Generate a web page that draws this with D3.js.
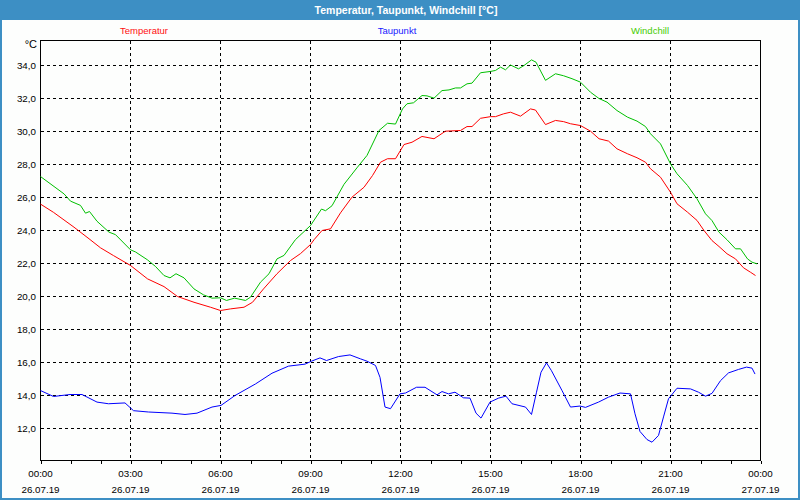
<!DOCTYPE html>
<html>
<head>
<meta charset="utf-8">
<script src="https://cdn.jsdelivr.net/npm/d3@7"></script>
<style>
	body { margin: 0; background: #ffffff; }
	svg { display: block; }
</style>
</head>
<body>
<div id="chart"></div>
<script>
var chartTitle = "Temperatur, Taupunkt, Windchill [°C]";
var seriesNames = ["Temperatur", "Taupunkt", "Windchill"];
var seriesColors = ["#ff0000", "#0000ff", "#00c000"];
var legendColors = ["#ff1010", "#2020ff", "#44cc00"];
var yTicks = [12, 14, 16, 18, 20, 22, 24, 26, 28, 30, 32, 34];
var yUnit = "°C";

// hours since 26.07.19 00:00
var tempHours = [0, 0.44, 1.11, 1.61, 2.0, 2.44, 3.0, 3.56, 4.11, 4.56, 5.11, 5.67, 6.0, 6.33, 6.78, 7.06,
	7.44, 7.89, 8.33, 8.67, 9.0, 9.11, 9.39, 9.67, 10.0, 10.39, 10.78, 11.06, 11.33, 11.56, 11.83,
	12.11, 12.39, 12.72, 13.11, 13.5, 14.0, 14.22, 14.39, 14.67, 15.0, 15.17, 15.44, 15.67, 16.0,
	16.33, 16.5, 16.83, 17.17, 17.44, 17.67, 18.0, 18.33, 18.61, 18.94, 19.22, 19.56, 19.89, 20.17,
	20.33, 20.67, 21.0, 21.22, 21.56, 21.89, 22.11, 22.39, 22.61, 22.89, 23.17, 23.44, 23.67, 23.83];
var tempValues = [25.6, 25.1, 24.2, 23.5, 22.95, 22.48, 21.88, 21.07, 20.6, 20.0, 19.65, 19.35, 19.15, 19.25, 19.35, 19.65,
	20.46, 21.38, 22.18, 22.6, 23.15, 23.44, 24.0, 24.1, 25.07, 26.02, 26.62, 27.33, 28.14, 28.35, 28.35,
	29.21, 29.35, 29.7, 29.56, 30.02, 30.06, 30.3, 30.3, 30.8, 30.9, 30.9, 31.07, 31.17, 30.93,
	31.37, 31.3, 30.42, 30.67, 30.6, 30.47, 30.36, 30.02, 29.56, 29.42, 28.95, 28.65, 28.41, 28.14,
	27.74, 27.23, 26.32, 25.62, 25.11, 24.61, 24.0, 23.39, 23.03, 22.59, 22.28, 21.74, 21.47, 21.27];

var dewHours = [0, 0.43, 0.99, 1.38, 1.88, 2.27, 2.82, 3.1, 3.6, 4.38, 4.82, 5.21, 5.71, 6.02, 6.49, 7.16,
	7.71, 8.27, 8.82, 9.04, 9.32, 9.54, 9.93, 10.32, 10.66, 10.88, 11.16, 11.32, 11.49, 11.66, 11.99,
	12.16, 12.54, 12.82, 13.21, 13.38, 13.6, 13.82, 14.1, 14.32, 14.51, 14.69, 14.99, 15.27, 15.51,
	15.71, 16.16, 16.36, 16.54, 16.69, 16.86, 17.04, 17.38, 17.66, 17.99, 18.16, 18.6, 18.93, 19.32,
	19.66, 19.82, 19.99, 20.21, 20.38, 20.6, 20.77, 20.93, 21.21, 21.66, 21.93, 22.16, 22.38, 22.66,
	22.93, 23.27, 23.54, 23.71, 23.82];
var dewValues = [14.3, 13.94, 14.06, 14.06, 13.6, 13.5, 13.55, 13.08, 13.0, 12.93, 12.85, 12.93, 13.3, 13.4, 14.0, 14.7,
	15.35, 15.78, 15.9, 16.08, 16.28, 16.12, 16.36, 16.46, 16.22, 16.08, 15.82, 15.1, 13.3, 13.2, 14.1,
	14.15, 14.5, 14.5, 14.04, 14.24, 14.1, 14.2, 13.86, 13.84, 12.93, 12.63, 13.6, 13.84, 13.96,
	13.5, 13.3, 12.85, 14.2, 15.41, 15.98, 15.5, 14.3, 13.3, 13.36, 13.28, 13.6, 13.9, 14.15,
	14.1, 12.89, 11.82, 11.33, 11.17, 11.58, 12.7, 13.8, 14.44, 14.4, 14.2, 13.96, 14.13, 14.9,
	15.37, 15.58, 15.72, 15.66, 15.3];

var chillHours = [0, 0.78, 1.0, 1.33, 1.5, 1.64, 1.89, 2.28, 2.5, 3.0, 3.17, 3.56, 3.83, 4.11, 4.31, 4.52,
	4.78, 5.11, 5.44, 5.72, 6.0, 6.2, 6.47, 6.83, 7.0, 7.33, 7.61, 7.89, 8.11, 8.5, 9.0, 9.36, 9.5,
	9.72, 10.11, 10.56, 10.89, 11.28, 11.56, 11.83, 12.06, 12.22, 12.44, 12.72, 12.89, 13.11, 13.39,
	13.61, 13.83, 14.0, 14.22, 14.39, 14.67, 15.0, 15.17, 15.33, 15.5, 15.67, 15.94, 16.11, 16.36,
	16.52, 16.83, 17.17, 17.44, 17.72, 18.0, 18.33, 18.61, 18.89, 19.22, 19.56, 19.89, 20.17, 20.33,
	20.67, 21.0, 21.22, 21.56, 21.89, 22.17, 22.39, 22.61, 22.89, 23.17, 23.33, 23.56, 23.72, 23.89];
var chillValues = [27.27, 26.22, 25.78, 25.52, 25.05, 25.15, 24.56, 23.9, 23.75, 22.83, 22.7, 22.22, 21.82, 21.27, 21.13, 21.38,
	21.13, 20.46, 20.1, 19.9, 19.92, 19.76, 19.9, 19.76, 19.96, 20.87, 21.38, 22.28, 22.49, 23.45, 24.3, 25.3, 25.2,
	25.5, 26.8, 27.84, 28.55, 30.06, 30.5, 30.45, 31.37, 31.68, 31.74, 32.18, 32.16, 32.02, 32.48,
	32.52, 32.64, 32.64, 32.89, 32.93, 33.56, 33.64, 33.7, 33.9, 33.74, 34.03, 33.8, 34.0, 34.34,
	34.2, 33.1, 33.5, 33.38, 33.2, 32.99, 32.38, 32.0, 31.78, 31.27, 30.87, 30.63, 30.3, 29.86,
	29.25, 28.04, 27.44, 26.73, 25.92, 25.01, 24.6, 23.9, 23.44, 22.89, 22.89, 22.28, 22.08, 21.98];

var width = 800;
var height = 500;
var frameColor = "#3d8fc4";
var plot = { left: 40, right: 760, top: 40, bottom: 460 };
var font = "'Liberation Sans', Arial, sans-serif";

var dayStart = new Date(2019, 6, 26, 0, 0);
var dayEnd = new Date(2019, 6, 27, 0, 0);

function toPoints(hours, values) {
	var pts = [];
	for (var i = 0; i < hours.length; i++) {
		pts.push({ t: d3.timeMinute.offset(dayStart, Math.round(hours[i] * 60)), v: values[i] });
	}
	return pts;
}

var series = [
	{ name: seriesNames[0], color: seriesColors[0], points: toPoints(tempHours, tempValues) },
	{ name: seriesNames[1], color: seriesColors[1], points: toPoints(dewHours, dewValues) },
	{ name: seriesNames[2], color: seriesColors[2], points: toPoints(chillHours, chillValues) }
];

var svg = d3.select("#chart").append("svg")
	.attr("width", width)
	.attr("height", height);

// window frame and title bar
svg.append("rect")
	.attr("x", 0).attr("y", 0)
	.attr("width", width).attr("height", height)
	.style("fill", "#fdfefd");
svg.append("rect")
	.attr("x", 1).attr("y", 1)
	.attr("width", width - 2).attr("height", height - 2)
	.style("fill", "none")
	.style("stroke", frameColor)
	.style("stroke-width", 2);
svg.append("rect")
	.attr("x", 0).attr("y", 0)
	.attr("width", width).attr("height", 20)
	.style("fill", frameColor);
svg.append("text")
	.text(chartTitle)
	.attr("x", 406).attr("y", 14)
	.attr("text-anchor", "middle")
	.attr("font-family", font)
	.attr("font-weight", "bold")
	.attr("font-size", 10.5)
	.style("fill", "#ffffff");

var x = d3.scaleTime()
	.domain([dayStart, dayEnd])
	.range([plot.left + 0.5, plot.right + 0.5]);

var y = d3.scaleLinear()
	.domain([12, 34])
	.range([428.5, 65.5]);

// grid
var grid = svg.append("g")
	.style("stroke", "#000000")
	.style("stroke-width", 1)
	.style("stroke-dasharray", "3,3")
	.attr("shape-rendering", "crispEdges");

grid.selectAll("line.h")
	.data(yTicks)
	.enter()
	.append("line")
	.attr("class", "h")
	.attr("x1", plot.left + 1)
	.attr("x2", plot.right)
	.attr("y1", function(d) { return y(d); })
	.attr("y2", function(d) { return y(d); });

var gridTimes = d3.timeHour.every(3).range(d3.timeHour.offset(dayStart, 1), dayEnd);
grid.selectAll("line.v")
	.data(gridTimes)
	.enter()
	.append("line")
	.attr("class", "v")
	.attr("x1", function(d) { return x(d); })
	.attr("x2", function(d) { return x(d); })
	.attr("y1", plot.top + 1)
	.attr("y2", plot.bottom);

// plot frame
svg.append("rect")
	.attr("x", plot.left + 0.5).attr("y", plot.top + 0.5)
	.attr("width", plot.right - plot.left).attr("height", plot.bottom - plot.top)
	.style("fill", "none")
	.style("stroke", "#000000")
	.style("stroke-width", 1)
	.attr("shape-rendering", "crispEdges");

// y axis labels
var yAxis = svg.append("g")
	.attr("transform", "translate(" + (plot.left - 3) + ",0)")
	.call(d3.axisLeft(y)
		.tickValues(yTicks)
		.tickSize(0)
		.tickPadding(1)
		.tickFormat(function(d) { return d3.format(".1f")(d).replace(".", ","); }));
yAxis.select(".domain").remove();
yAxis.selectAll("text")
	.attr("font-family", font)
	.attr("font-size", 9.8)
	.style("fill", "#000000");

svg.append("text")
	.text(yUnit)
	.attr("x", 37).attr("y", 48)
	.attr("text-anchor", "end")
	.attr("font-family", font)
	.attr("font-size", 11)
	.style("fill", "#000000");

// x axis: hourly ticks, labels every 3 hours
var xAxis = svg.append("g")
	.attr("transform", "translate(0," + (plot.bottom + 0.5) + ")")
	.attr("shape-rendering", "crispEdges")
	.call(d3.axisBottom(x)
		.ticks(d3.timeHour.every(1))
		.tickSize(3.5)
		.tickFormat(""));
xAxis.select(".domain").remove();

var labelTimes = d3.timeHour.every(3).range(dayStart, d3.timeHour.offset(dayEnd, 1));
var xLabels = svg.selectAll("g.xlabel")
	.data(labelTimes)
	.enter()
	.append("g")
	.attr("class", "xlabel")
	.attr("transform", function(d) { return "translate(" + x(d) + ",0)"; });

xLabels.append("text")
	.text(d3.timeFormat("%H:%M"))
	.attr("y", 477)
	.attr("text-anchor", "middle")
	.attr("font-family", font)
	.attr("font-size", 9.8)
	.style("fill", "#000000");
xLabels.append("text")
	.text(d3.timeFormat("%d.%m.%y"))
	.attr("y", 493)
	.attr("text-anchor", "middle")
	.attr("font-family", font)
	.attr("font-size", 9.8)
	.style("fill", "#000000");

// legend
var legendX = [144, 397, 650];
svg.selectAll("text.legend")
	.data(series)
	.enter()
	.append("text")
	.attr("class", "legend")
	.text(function(d) { return d.name; })
	.attr("x", function(d, i) { return legendX[i]; })
	.attr("y", 34)
	.attr("text-anchor", "middle")
	.attr("font-family", font)
	.attr("font-size", 9.5)
	.style("fill", function(d, i) { return legendColors[i]; });

// lines
var line = d3.line()
	.x(function(d) { return x(d.t); })
	.y(function(d) { return y(d.v); });

svg.selectAll("path.series")
	.data(series)
	.enter()
	.append("path")
	.attr("class", "series")
	.attr("d", function(d) { return line(d.points); })
	.style("fill", "none")
	.style("stroke", function(d) { return d.color; })
	.style("stroke-width", 1);
</script>
</body>
</html>
